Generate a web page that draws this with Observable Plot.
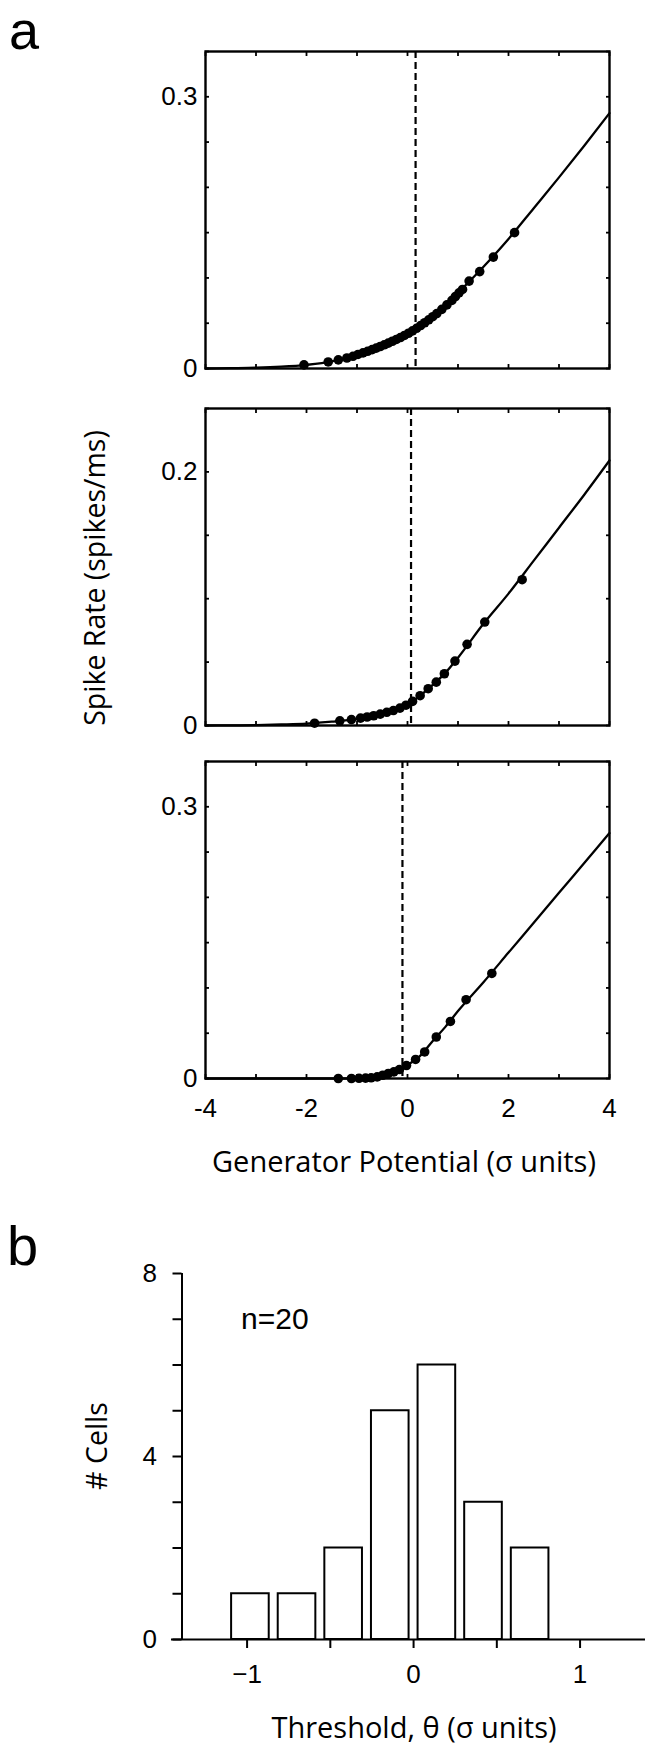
<!DOCTYPE html>
<html><head><meta charset="utf-8">
<script src="https://cdn.jsdelivr.net/npm/d3@7"></script>
<script src="https://cdn.jsdelivr.net/npm/@observablehq/plot@0.6"></script>
<style>
body{margin:0;background:#fff;}
#fig{position:relative;width:645px;height:1745px;overflow:hidden;background:#fff;}
#fig > svg{position:absolute;left:0;top:0;}
</style></head><body><div id="fig"></div>
<script>
// ---------- data ----------
const potentialTicks = [-4, -3, -2, -1, 0, 1, 2, 3, 4];
const potentialLabels = [-4, -2, 0, 2, 4];
const rateTicksA = [0, 0.05, 0.1, 0.15, 0.2, 0.25, 0.3, 0.35];
const rateTicksB = [0, 0.05, 0.1, 0.15, 0.2, 0.25];
const rateLabels1 = [0, 0.3];
const rateLabels2 = [0, 0.2];
const rateLabels3 = [0, 0.3];
const rateMax = [0.35, 0.25, 0.35];

// fitted nonlinearity
const curveX = [-4, -3.5, -3, -2.5, -2, -1.5, -1, -0.75, -0.5, -0.25, 0, 0.25, 0.5, 0.75, 1, 1.5, 2, 2.5, 3, 3.5, 4];
const curve1 = [0, 0.0004, 0.0009, 0.002, 0.004, 0.0078, 0.0155, 0.0205, 0.0265, 0.0325, 0.0395, 0.0478, 0.058, 0.070, 0.0835, 0.112, 0.143, 0.177, 0.211, 0.246, 0.282];
const curve2 = [0, 0.0001, 0.0003, 0.0008, 0.0015, 0.003, 0.0052, 0.0071, 0.0095, 0.0122, 0.0165, 0.0235, 0.032, 0.0415, 0.0535, 0.080, 0.104, 0.130, 0.156, 0.182, 0.209];
const curve3 = [0, 0, 0, 0, 0, 0, 0.0001, 0.0008, 0.0033, 0.0077, 0.015, 0.025, 0.0415, 0.057, 0.0745, 0.106, 0.139, 0.172, 0.205, 0.238, 0.271];

// measured points
const dots1X = [-2.05, -1.57, -1.37, -1.2, -1.08, -0.98, -0.88, -0.79, -0.7, -0.62, -0.54, -0.46, -0.38, -0.3, -0.22, -0.14, -0.06, 0.02, 0.1, 0.18, 0.26, 0.34, 0.42, 0.5, 0.58, 0.68, 0.78, 0.88, 0.95, 1.02, 1.09, 1.22, 1.43, 1.70, 2.12];
const dots1Y = [0.004, 0.0072, 0.0095, 0.0116, 0.0135, 0.0155, 0.0172, 0.019, 0.0208, 0.0225, 0.0243, 0.0262, 0.028, 0.0301, 0.0321, 0.0342, 0.0365, 0.0389, 0.0415, 0.0444, 0.0474, 0.0505, 0.0538, 0.0572, 0.0607, 0.0653, 0.0702, 0.0752, 0.0795, 0.0835, 0.0873, 0.0965, 0.107, 0.123, 0.150];
const dots2X = [-1.84, -1.34, -1.11, -0.93, -0.8, -0.67, -0.54, -0.41, -0.28, -0.15, -0.03, 0.1, 0.25, 0.41, 0.57, 0.73, 0.94, 1.18, 1.53, 2.27];
const dots2Y = [0.0018, 0.0037, 0.0047, 0.0058, 0.0067, 0.0077, 0.0090, 0.0104, 0.0118, 0.0137, 0.0160, 0.0190, 0.0235, 0.029, 0.0342, 0.0408, 0.0508, 0.064, 0.0816, 0.115];
const dots3X = [-1.37, -1.11, -0.96, -0.83, -0.72, -0.6, -0.49, -0.38, -0.27, -0.16, -0.02, 0.16, 0.34, 0.57, 0.85, 1.16, 1.67];
const dots3Y = [0, 0, 0.0002, 0.0004, 0.0008, 0.0018, 0.0036, 0.0055, 0.0073, 0.0099, 0.0143, 0.021, 0.0293, 0.0458, 0.063, 0.087, 0.116];

const thresholds = [0.16, 0.07, -0.1];

// histogram
const binEdges = [-1.12, -0.84, -0.56, -0.28, 0, 0.28, 0.56, 0.84];
const cellCounts = [1, 1, 2, 5, 6, 3, 2];
const thresholdTicks = [-1, -0.5, 0, 0.5, 1];
const thresholdLabels = [-1, 0, 1];
const cellTicks = [0, 1, 2, 3, 4, 5, 6, 7, 8];
const cellLabels = [0, 4, 8];
const thresholdDomain = [-1.454, 1.393];

// ---------- drawing ----------
const fig = document.getElementById("fig");
const ARIAL = "'Liberation Sans', Arial, Helvetica, sans-serif";
const HUMAN = "'Open Sans', 'Noto Sans', sans-serif";
const pick = (labels, fmt = String) => d => labels.some(v => Math.abs(v - d) < 1e-9) ? fmt(d) : "";
const minus = d => d < 0 ? "\u2212" + Math.abs(d) : String(d);

// text layer
const txt = d3.create("svg").attr("width", 645).attr("height", 1745);
txt.append("text").attr("x", 9).attr("y", 49).attr("font-family", ARIAL).attr("font-size", 54).text("a");
txt.append("text").attr("x", 7).attr("y", 1265).attr("font-family", ARIAL).attr("font-size", 56).text("b");
txt.append("text").attr("transform", "translate(105,578) rotate(-90)").attr("text-anchor", "middle")
  .attr("font-family", HUMAN).attr("font-size", 28.5).text("Spike Rate (spikes/ms)");
txt.append("text").attr("x", 404).attr("y", 1172).attr("text-anchor", "middle")
  .attr("font-family", HUMAN).attr("font-size", 29).text("Generator Potential (\u03c3 units)");
txt.append("text").attr("transform", "translate(107,1446) rotate(-90)").attr("text-anchor", "middle")
  .attr("font-family", HUMAN).attr("font-size", 28.5).text("# Cells");
txt.append("text").attr("x", 241).attr("y", 1329).attr("font-family", ARIAL).attr("font-size", 30).text("n=20");
txt.append("text").attr("x", 414).attr("y", 1738).attr("text-anchor", "middle")
  .attr("font-family", HUMAN).attr("font-size", 29).text("Threshold, \u03b8 (\u03c3 units)");
fig.append(txt.node());

function panel(curve, dx, dy, threshold, yTicks, yLabels, yMax, showX, frameTop) {
  const line = curveX.map((x, i) => ({x, y: curve[i]}));
  const dots = dx.map((x, i) => ({x, y: dy[i]}));
  const mb = showX ? 50 : 16;
  const p = Plot.plot({
    width: 645, height: 20 + 317 + mb,
    marginTop: 20, marginBottom: mb, marginLeft: 205, marginRight: 36,
    style: {background: "transparent", fontFamily: ARIAL, fontSize: "26px", color: "#000", overflow: "visible"},
    x: {domain: [-4, 4]},
    y: {domain: [0, yMax]},
    marks: [
      Plot.line(line, {x: "x", y: "y", curve: "monotone-x", stroke: "#000", strokeWidth: 2.3}),
      Plot.ruleX([threshold], {stroke: "#000", strokeWidth: 2.2, strokeDasharray: "7,4"}),
      Plot.dot(dots, {x: "x", y: "y", r: 4.8, fill: "#000"}),
      Plot.axisX(potentialTicks, {anchor: "bottom", tickSize: -4, tickPadding: 24, strokeWidth: 1.8,
        tickFormat: showX ? pick(potentialLabels) : () => "", label: null, fontSize: 26}),
      Plot.axisX(potentialTicks, {anchor: "top", tickSize: -4, strokeWidth: 1.8, tickFormat: () => "", label: null}),
      Plot.axisY(yTicks, {anchor: "left", tickSize: -4, tickPadding: 12, strokeWidth: 1.8,
        tickFormat: pick(yLabels), label: null, fontSize: 26}),
      Plot.axisY(yTicks, {anchor: "right", tickSize: -4, strokeWidth: 1.8, tickFormat: () => "", label: null}),
      Plot.frame({stroke: "#000", strokeWidth: 2.4})
    ]
  });
  p.style.top = (frameTop - 20) + "px";
  fig.append(p);
}

panel(curve1, dots1X, dots1Y, thresholds[0], rateTicksA, rateLabels1, rateMax[0], false, 51);
panel(curve2, dots2X, dots2Y, thresholds[1], rateTicksB, rateLabels2, rateMax[1], false, 408);
panel(curve3, dots3X, dots3Y, thresholds[2], rateTicksA, rateLabels3, rateMax[2], true, 761);

// histogram
const bins = cellCounts.map((c, i) => ({x1: binEdges[i], x2: binEdges[i + 1], y: c}));
const h = Plot.plot({
  width: 645, height: 450,
  marginTop: 23, marginBottom: 61, marginLeft: 171, marginRight: 0,
  style: {background: "transparent", fontFamily: ARIAL, fontSize: "26px", color: "#000", overflow: "visible"},
  x: {domain: thresholdDomain},
  y: {domain: [0, 8]},
  marks: [
    Plot.rectY(bins, {x1: "x1", x2: "x2", y: "y", fill: "#fff", stroke: "#000", strokeWidth: 2, insetLeft: 4.5, insetRight: 4.5}),
    Plot.ruleY([0], {stroke: "#000", strokeWidth: 2}),
    Plot.ruleX([thresholdDomain[0]], {y1: 0, y2: 8, dx: 10.5, stroke: "#000", strokeWidth: 2}),
    Plot.axisX(thresholdTicks, {anchor: "bottom", tickSize: 9, tickPadding: 16, strokeWidth: 2,
      tickFormat: pick(thresholdLabels, minus), label: null, fontSize: 26}),
    Plot.axisY(cellTicks, {anchor: "left", tickSize: 9, tickPadding: 16, dx: 10.5, strokeWidth: 2,
      tickFormat: pick(cellLabels), label: null, fontSize: 26})
  ]
});
h.style.top = (1273 - 23) + "px";
fig.append(h);
</script></body></html>
